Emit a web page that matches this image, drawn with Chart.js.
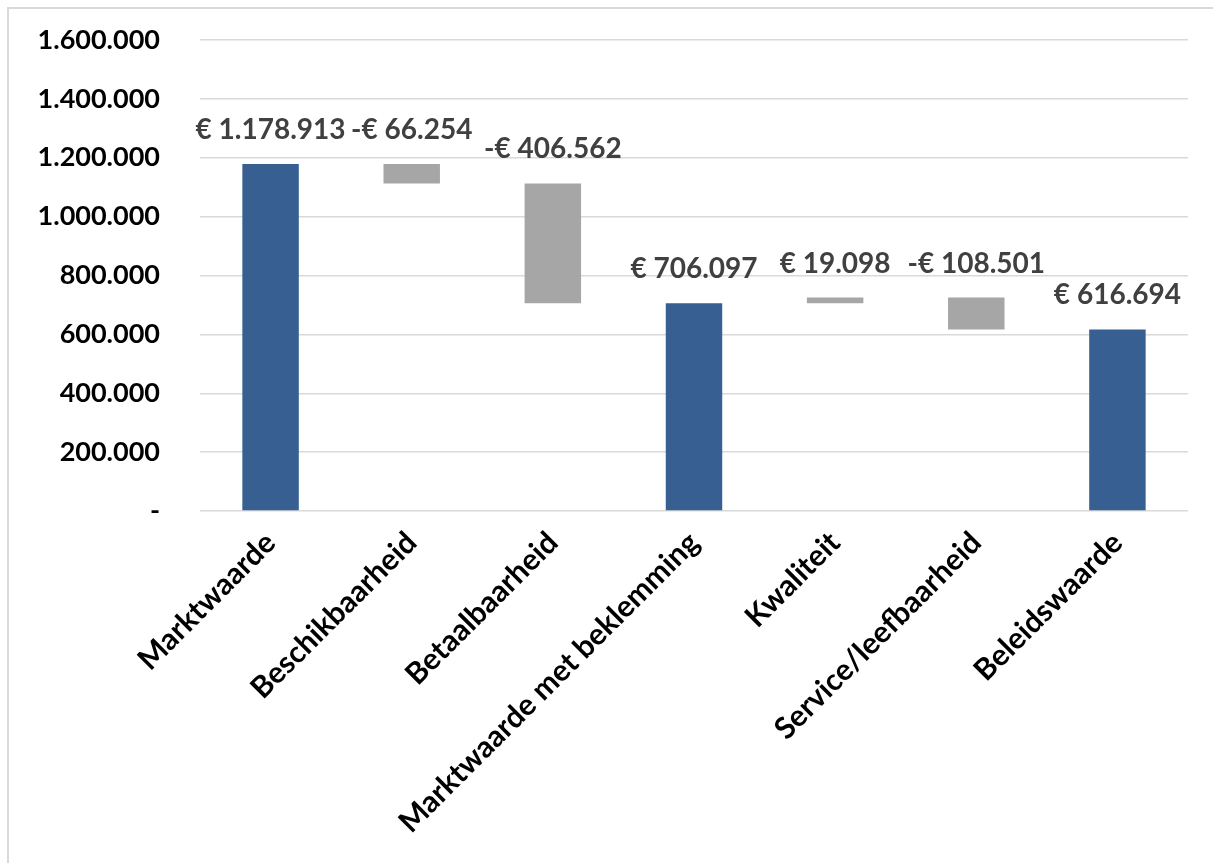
<!DOCTYPE html>
<html>
<head>
<meta charset="utf-8">
<script src="https://cdn.jsdelivr.net/npm/chart.js@4"></script>
<style>
  html, body { margin: 0; padding: 0; background: #fff; }
  #wrap { width: 1213px; height: 863px; position: relative; }
</style>
</head>
<body>
<div id="wrap"><canvas id="mychartCanvas" width="1213" height="863"></canvas></div>
<script>
// waterfall data
var categories = ["Marktwaarde", "Beschikbaarheid", "Betaalbaarheid", "Marktwaarde met beklemming", "Kwaliteit", "Service/leefbaarheid", "Beleidswaarde"];
var changes = [1178913, -66254, -406562, 706097, 19098, -108501, 616694];
var isTotal = [true, false, false, true, false, false, true];
var yTicks = [0, 200000, 400000, 600000, 800000, 1000000, 1200000, 1400000, 1600000];

var blue = "#375f91";
var grey = "#a6a6a6";

function dots(n) {
  var s = String(Math.abs(Math.round(n)));
  return s.replace(/\B(?=(\d{3})+(?!\d))/g, ".");
}

// build floating bars
var ranges = [];
var colors = [];
var running = 0;
for (var i = 0; i < changes.length; i++) {
  if (isTotal[i]) {
    running = changes[i];
    ranges.push([0, running]);
    colors.push(blue);
  } else {
    var start = running;
    running = running + changes[i];
    ranges.push([start, running]);
    colors.push(grey);
  }
}

var labelPlugin = {
  id: "labels",
  afterDatasetsDraw: function (chart) {
    var ctx = chart.ctx;
    var meta = chart.getDatasetMeta(0);
    ctx.save();
    ctx.font = "bold 28px Lato";
    ctx.fillStyle = "#404040";
    ctx.textAlign = "center";
    ctx.textBaseline = "middle";
    meta.data.forEach(function (bar, i) {
      var top = Math.min(bar.y, bar.base);
      var txt = (changes[i] < 0 ? "-€ " : "€ ") + dots(changes[i]);
      ctx.fillText(txt, bar.x, top - 34);
    });
    ctx.restore();
  }
};

var framePlugin = {
  id: "frame",
  beforeDraw: function (chart) {
    var ctx = chart.ctx;
    ctx.save();
    ctx.fillStyle = "#fff";
    ctx.fillRect(0, 0, chart.width, chart.height);
    ctx.strokeStyle = "#d9d9d9";
    ctx.lineWidth = 2;
    ctx.strokeRect(8, 8, 1300, 1000);
    ctx.restore();
  }
};

var ctx = document.getElementById("mychartCanvas");

var chart = new Chart(ctx, {
  type: "bar",
  data: {
    labels: categories,
    datasets: [{
      data: ranges,
      backgroundColor: colors,
      borderWidth: 0,
      categoryPercentage: 1,
      barPercentage: 0.4
    }]
  },
  options: {
    responsive: false,
    animation: false,
    layout: { padding: { top: 40, right: 25, left: 0, bottom: 0 } },
    plugins: {
      legend: { display: false },
      tooltip: { enabled: false }
    },
    scales: {
      x: {
        grid: { display: false },
        border: { display: false },
        ticks: {
          color: "#000",
          font: { family: "Lato", size: 30, weight: "bold" },
          maxRotation: 45,
          minRotation: 45,
          padding: 6
        },
        afterFit: function (scale) { scale.height = 352; }
      },
      y: {
        min: 0,
        max: 1600000,
        afterBuildTicks: function (scale) {
          scale.ticks = yTicks.map(function (v) { return { value: v }; });
        },
        grid: { color: "#d9d9d9", lineWidth: 1.5, drawTicks: false },
        border: { display: false },
        ticks: {
          color: "#000",
          font: { family: "Lato", size: 27, weight: "bold" },
          padding: 40,
          callback: function (v) { return v === 0 ? "-" : dots(v); }
        },
        afterFit: function (scale) { scale.width = 200; scale.paddingTop = 0; }
      }
    }
  },
  plugins: [labelPlugin, framePlugin]
});
</script>
</body>
</html>
